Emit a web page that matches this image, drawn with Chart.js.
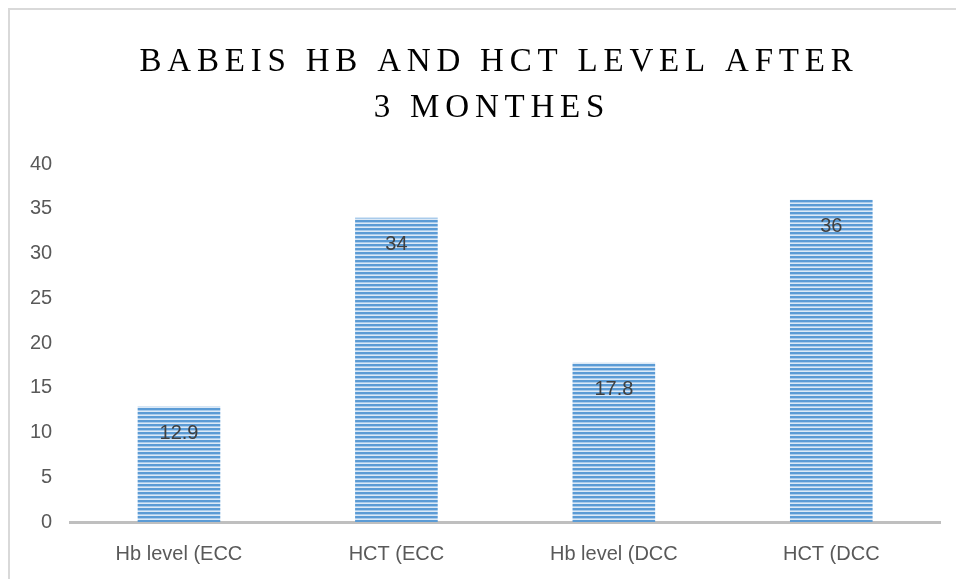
<!DOCTYPE html>
<html>
<head>
<meta charset="utf-8">
<script src="https://cdn.jsdelivr.net/npm/chart.js@4/dist/chart.umd.min.js"></script>
<style>
  body { margin: 0; background: #fff; }
  #frame { position: absolute; left: 8px; top: 8px; width: 960px; height: 600px;
           border-left: 2px solid #d9d9d9; border-top: 2px solid #d9d9d9; }
  #wrap { position: absolute; left: 0; top: 0; width: 956px; height: 579px; }
</style>
</head>
<body>
<div id="frame"></div>
<div id="wrap"><canvas id="chart"></canvas></div>
<script>
// data
const categories = ['Hb level (ECC', 'HCT (ECC', 'Hb level (DCC', 'HCT (DCC'];
const values = [12.9, 34, 17.8, 36];
const titleLines = ['BABEIS HB AND HCT LEVEL AFTER', '3 MONTHES'];

// striped fill like the original bars
function stripes() {
    const c = document.createElement('canvas');
    c.width = 4; c.height = 4;
    const g = c.getContext('2d');
    g.fillStyle = '#5b9bd5'; g.fillRect(0, 0, 4, 2);
    g.fillStyle = '#a9cbeb'; g.fillRect(0, 2, 4, 1);
    g.fillStyle = '#dce9f6'; g.fillRect(0, 3, 4, 1);
    return g.createPattern(c, 'repeat');
}

const tickFont = { family: "'Liberation Sans', Arial, sans-serif", size: 20 };

// title with spaced letters
const titlePlugin = {
    id: 'spacedTitle',
    afterDraw(chart) {
        const ctx = chart.ctx;
        ctx.save();
        ctx.font = "33px 'Liberation Serif', serif";
        ctx.letterSpacing = '5.8px';
        ctx.fillStyle = '#000';
        ctx.textAlign = 'center';
        ctx.textBaseline = 'middle';
        ctx.fillText(titleLines[0], 499, 62);
        ctx.fillText(titleLines[1], 492, 108);
        ctx.restore();
    }
};

// value labels inside bar tops
const valuePlugin = {
    id: 'values',
    afterDatasetsDraw(chart) {
        const ctx = chart.ctx;
        const meta = chart.getDatasetMeta(0);
        ctx.save();
        ctx.font = "20px " + tickFont.family;
        ctx.fillStyle = '#404040';
        ctx.textAlign = 'center';
        ctx.textBaseline = 'middle';
        meta.data.forEach((bar, i) => {
            ctx.fillText(String(values[i]), bar.x, bar.y + 27);
        });
        ctx.restore();
    }
};

new Chart(document.getElementById('chart'), {
    type: 'bar',
    data: {
        labels: categories,
        datasets: [{
            data: values,
            backgroundColor: stripes(),
            borderWidth: 0,
            barPercentage: 0.38,
            categoryPercentage: 1
        }]
    },
    options: {
        responsive: true,
        maintainAspectRatio: false,
        animation: false,
        layout: { padding: { top: 164, right: 16, left: 20, bottom: 1 } },
        plugins: { legend: { display: false }, tooltip: { enabled: false } },
        scales: {
            x: {
                grid: { display: false },
                border: { color: '#bfbfbf', width: 3 },
                ticks: { color: '#595959', font: tickFont, padding: 12 }
            },
            y: {
                min: 0, max: 40,
                grid: { display: false },
                border: { display: false },
                ticks: { stepSize: 5, color: '#595959', font: tickFont, padding: 10 }
            }
        }
    },
    plugins: [titlePlugin, valuePlugin]
});
</script>
</body>
</html>
